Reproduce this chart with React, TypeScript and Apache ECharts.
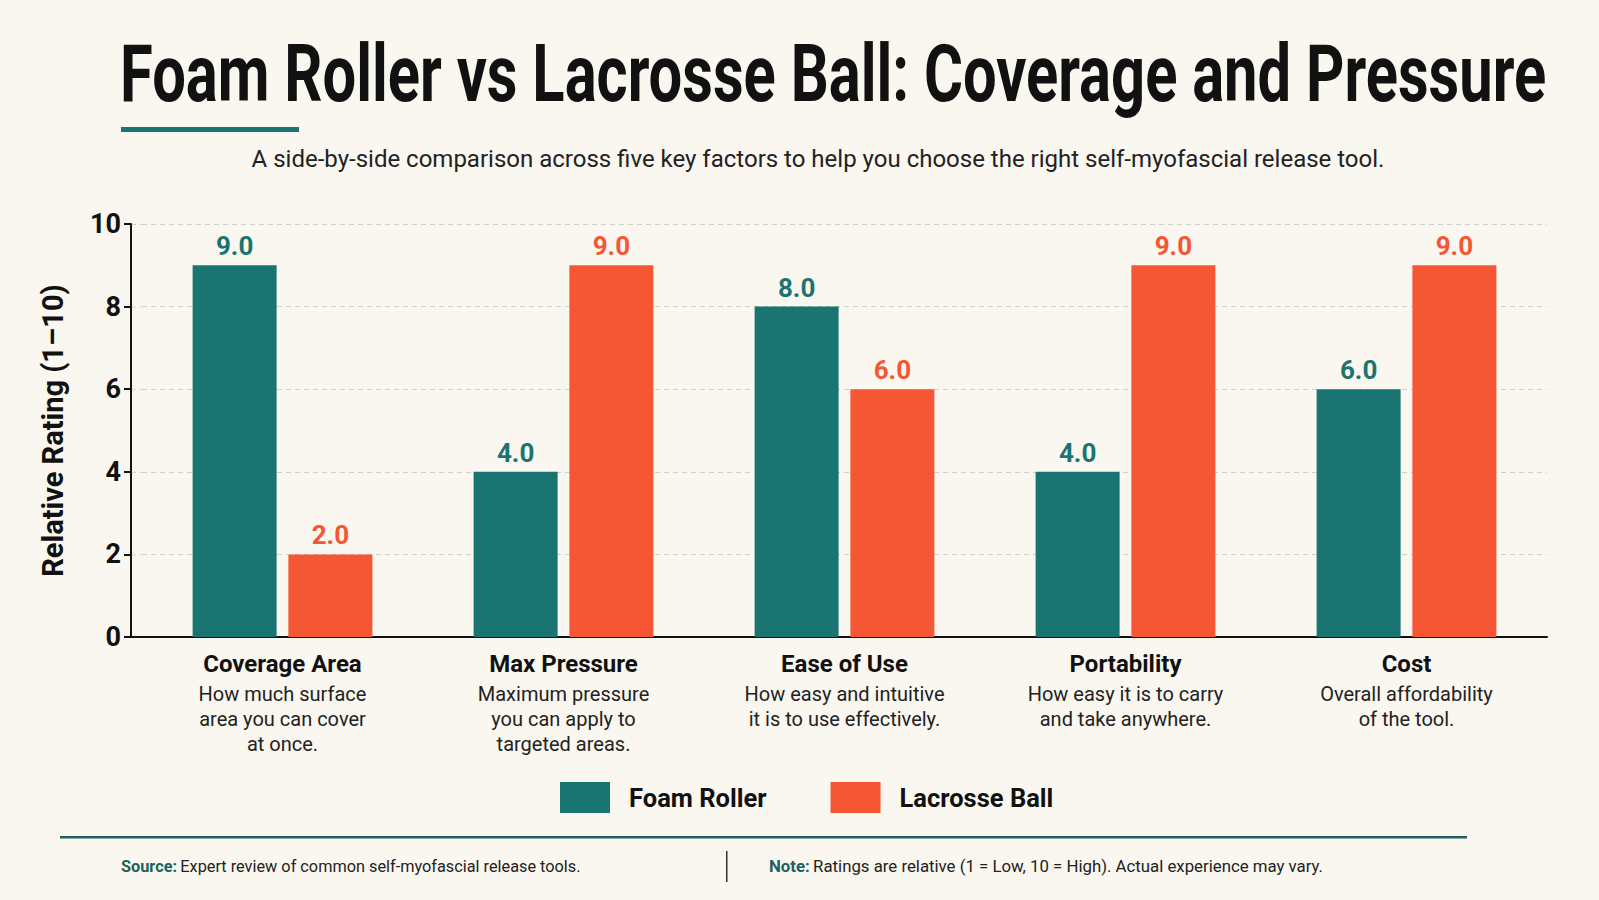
import React, { useEffect, useRef } from "react";
import * as echarts from "echarts";

const categories = ["Coverage Area", "Max Pressure", "Ease of Use", "Portability", "Cost"];
const descriptions = [
  "How much surface\narea you can cover\nat once.",
  "Maximum pressure\nyou can apply to\ntargeted areas.",
  "How easy and intuitive\nit is to use effectively.",
  "How easy it is to carry\nand take anywhere.",
  "Overall affordability\nof the tool.",
];
const foamRoller = [9, 4, 8, 4, 6];
const lacrosseBall = [2, 9, 6, 9, 9];
const seriesNames = ["Foam Roller", "Lacrosse Ball"];

const TEAL = "#1a7471";
const ORANGE = "#f55633";
const BG = "#faf7f0";
const FONT = "Roboto, 'Noto Sans', sans-serif";

export default function App() {
  const ref = useRef<HTMLDivElement>(null);
  useEffect(() => {
    if (!ref.current) return;
    document.body.style.margin = "0";
    document.body.style.background = BG;
    const chart = echarts.init(ref.current, null, { renderer: "svg" });
    const option: any = {
      animation: false,
      backgroundColor: BG,
      textStyle: { fontFamily: FONT },
      grid: { left: 142, right: 52, top: 224, bottom: 263 },
      legend: {
        data: seriesNames,
        left: 555,
        top: 777,
        itemWidth: 50,
        itemHeight: 31,
        itemGap: 64,
        icon: "rect",
        textStyle: { fontSize: 25.5, fontWeight: "bold", color: "#111", fontFamily: FONT, padding: [0, 0, 0, 14] },
      },
      xAxis: {
        type: "category",
        data: categories,
        axisLine: { lineStyle: { color: "#111", width: 2 } },
        axisTick: { show: false },
        axisLabel: {
          interval: 0,
          margin: 10,
          formatter: (v: string, i: number) => `{n|${v}}\n{d|${descriptions[i]}}`,
          rich: {
            n: { fontSize: 24, fontWeight: "bold", color: "#111", fontFamily: FONT, lineHeight: 34 },
            d: { fontSize: 20, color: "#222", fontFamily: FONT, lineHeight: 25 },
          },
        },
      },
      yAxis: {
        type: "value",
        min: 0,
        max: 10,
        interval: 2,
        offset: 11,
        name: "Relative Rating (1–10)",
        nameLocation: "middle",
        nameGap: 64,
        nameTextStyle: { fontSize: 29, fontWeight: "bold", color: "#111", fontFamily: FONT },
        axisLine: { show: true, lineStyle: { color: "#111", width: 2 } },
        axisTick: { show: true, length: 7, lineStyle: { color: "#111", width: 2 } },
        axisLabel: { fontSize: 27, fontWeight: "bold", color: "#111", margin: 10, fontFamily: FONT },
        splitLine: { show: true, lineStyle: { color: "#cfcfcf", type: [5, 4], width: 1 } },
      },
      series: [
        {
          name: seriesNames[0],
          type: "bar",
          data: foamRoller,
          barWidth: 84,
          barGap: "14%",
          itemStyle: { color: TEAL },
          label: {
            show: true,
            position: "top",
            distance: 6,
            formatter: (p: any) => p.value.toFixed(1),
            fontSize: 26,
            fontWeight: "bold",
            color: TEAL,
            fontFamily: FONT,
          },
        },
        {
          name: seriesNames[1],
          type: "bar",
          data: lacrosseBall,
          barWidth: 84,
          itemStyle: { color: ORANGE },
          label: {
            show: true,
            position: "top",
            distance: 6,
            formatter: (p: any) => p.value.toFixed(1),
            fontSize: 26,
            fontWeight: "bold",
            color: ORANGE,
            fontFamily: FONT,
          },
        },
      ],
      graphic: [
        { type: "rect", shape: { x: 130, y: 636, width: 13, height: 2 }, style: { fill: "#111" } },
        ...[224, 306.6, 389.2, 471.8, 554.4].map((y) => ({
          type: "line",
          shape: { x1: 131, y1: y + 0.5, x2: 142, y2: y + 0.5 },
          style: { stroke: "#cfcfcf", lineWidth: 1, lineDash: [5, 4] },
        })),
        {
          type: "text",
          x: 120,
          y: 74,
          scaleX: 0.746,
          style: {
            text: "Foam Roller vs Lacrosse Ball: Coverage and Pressure",
            font: `bold 80px ${FONT}`,
            fill: "#111",
            textAlign: "left",
            textVerticalAlign: "middle",
          },
        },
        { type: "rect", shape: { x: 121, y: 127, width: 178, height: 5 }, style: { fill: TEAL } },
        {
          type: "text",
          x: 818,
          y: 159,
          style: {
            text: "A side-by-side comparison across five key factors to help you choose the right self-myofascial release tool.",
            font: `24px ${FONT}`,
            fill: "#222",
            textAlign: "center",
            textVerticalAlign: "middle",
          },
        },
        { type: "rect", shape: { x: 60, y: 836, width: 1407, height: 2.5 }, style: { fill: "#1f5f5c" } },
        { type: "rect", shape: { x: 726, y: 851, width: 1.5, height: 31 }, style: { fill: "#333" } },
        {
          type: "text",
          x: 121,
          y: 866,
          style: {
            text: "{b|Source:} {r|Expert review of common self-myofascial release tools.}",
            rich: {
              b: { fontSize: 16.3, fontWeight: "bold", fill: "#1f5f5c", fontFamily: FONT },
              r: { fontSize: 16.3, fill: "#222", fontFamily: FONT },
            },
            textAlign: "left",
            textVerticalAlign: "middle",
          },
        },
        {
          type: "text",
          x: 769,
          y: 866,
          style: {
            text: "{b|Note:} {r|Ratings are relative (1 = Low, 10 = High). Actual experience may vary.}",
            rich: {
              b: { fontSize: 16.8, fontWeight: "bold", fill: "#1f5f5c", fontFamily: FONT },
              r: { fontSize: 16.8, fill: "#222", fontFamily: FONT },
            },
            textAlign: "left",
            textVerticalAlign: "middle",
          },
        },
      ],
    };
    chart.setOption(option);
    return () => chart.dispose();
  }, []);
  return <div ref={ref} style={{ position: "fixed", left: 0, top: 0, width: 1599, height: 900 }} />;
}
